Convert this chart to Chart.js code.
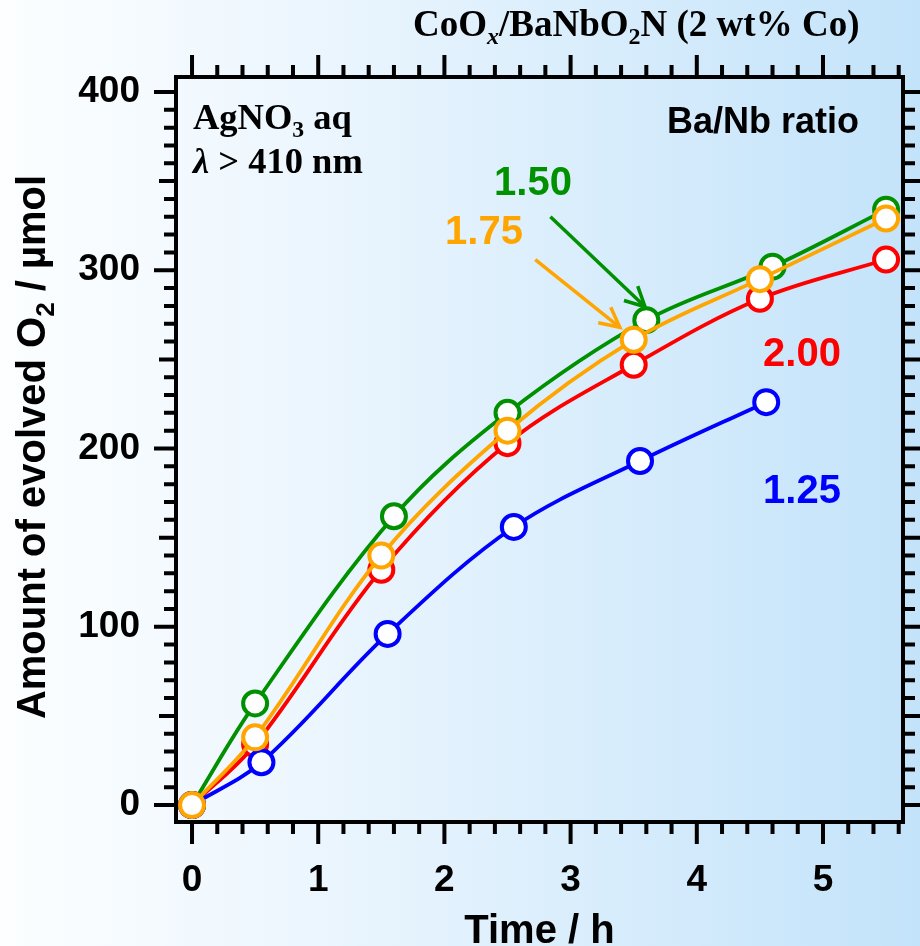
<!DOCTYPE html>
<html>
<head>
<meta charset="utf-8">
<script src="https://cdn.jsdelivr.net/npm/chart.js@4.4.1/dist/chart.umd.min.js"></script>
<style>
  html, body { margin: 0; padding: 0; background: #ffffff; }
  canvas { display: block; }
</style>
</head>
<body>
<canvas id="c" width="920" height="946"></canvas>
<script>
// ---------------- data ----------------
const ratioLabels = ['1.25', '1.50', '1.75', '2.00'];
const time_125 = [0, 0.55, 1.55, 2.55, 3.55, 4.55];
const o2_125   = [0, 24, 96, 156, 193, 226];
const time_150 = [0, 0.5, 1.6, 2.5, 3.6, 4.6, 5.5];
const o2_150   = [0, 57, 162, 220, 272, 302, 334];
const time_175 = [0, 0.5, 1.5, 2.5, 3.5, 4.5, 5.5];
const o2_175   = [0, 38, 140, 210, 261, 295, 329];
const time_200 = [0, 0.5, 1.5, 2.5, 3.5, 4.5, 5.5];
const o2_200   = [0, 34, 132, 203, 247, 284, 306];
const xTickValues = [0, 1, 2, 3, 4, 5];
const yTickValues = [0, 100, 200, 300, 400];
// arrows (data coordinates): [x0, y0, x1, y1]
const arrow_150 = [2.84, 330, 3.59, 279.5];
const arrow_175 = [2.72, 306, 3.39, 268];

const SANS = '"Liberation Sans", Arial, sans-serif';
const SERIF = '"Liberation Serif", "Times New Roman", serif';

function pts(xs, ys) { return xs.map((x, i) => ({ x: x, y: ys[i] })); }

// ---------------- rich text helper ----------------
function segFont(seg, size, family) {
  const s = seg.sub ? size * 0.65 : size;
  return (seg.italic ? 'italic ' : '') + 'bold ' + s + 'px ' + family;
}
function richWidth(ctx, segs, size, family) {
  let w = 0;
  segs.forEach(seg => { ctx.font = segFont(seg, size, family); w += ctx.measureText(seg.t).width; });
  return w;
}
function drawRich(ctx, segs, x, y, size, family, color) {
  ctx.save();
  ctx.fillStyle = color;
  ctx.textBaseline = 'alphabetic';
  ctx.textAlign = 'left';
  let cx = x;
  segs.forEach(seg => {
    ctx.font = segFont(seg, size, family);
    const dy = seg.sub ? size * 0.22 : 0;
    ctx.fillText(seg.t, cx, y + dy);
    cx += ctx.measureText(seg.t).width;
  });
  ctx.restore();
}

// ---------------- plugins ----------------
const bgPlugin = {
  id: 'bg',
  beforeDraw(chart) {
    const ctx = chart.ctx;
    const g = ctx.createLinearGradient(0, 0, chart.width, 0);
    g.addColorStop(0, '#fcfeff');
    g.addColorStop(0.3, '#eef7fe');
    g.addColorStop(1, '#c3e3fa');
    ctx.save();
    ctx.fillStyle = g;
    ctx.fillRect(0, 0, chart.width, chart.height);
    ctx.restore();
  }
};

function drawArrow(ctx, xs, ys, a, color) {
  const x0 = xs.getPixelForValue(a[0]), y0 = ys.getPixelForValue(a[1]);
  const x1 = xs.getPixelForValue(a[2]), y1 = ys.getPixelForValue(a[3]);
  const ang = Math.atan2(y1 - y0, x1 - x0);
  const L = 22, h = 27 * Math.PI / 180;
  ctx.save();
  ctx.strokeStyle = color;
  ctx.lineWidth = 3.5;
  ctx.lineCap = 'butt';
  ctx.beginPath();
  ctx.moveTo(x0, y0); ctx.lineTo(x1, y1);
  ctx.stroke();
  ctx.beginPath();
  ctx.moveTo(x1 - L * Math.cos(ang - h), y1 - L * Math.sin(ang - h));
  ctx.lineTo(x1, y1);
  ctx.lineTo(x1 - L * Math.cos(ang + h), y1 - L * Math.sin(ang + h));
  ctx.stroke();
  ctx.restore();
}

const framePlugin = {
  id: 'frame',
  afterDraw(chart) {
    const ctx = chart.ctx;
    const a = chart.chartArea;
    const xs = chart.scales.x, ys = chart.scales.y;
    ctx.save();
    ctx.strokeStyle = '#000';
    ctx.lineWidth = 4;
    ctx.strokeRect(a.left, a.top, a.right - a.left, a.bottom - a.top);
    // x ticks (bottom & top), every 0.2
    for (let i = 0; i <= 28; i++) {
      const v = i * 0.2;
      const px = xs.getPixelForValue(v);
      if (px > a.right - 3) continue;
      const major = (i % 5 === 0);
      const len = major ? 20 : 10;
      ctx.beginPath();
      ctx.moveTo(px, a.bottom); ctx.lineTo(px, a.bottom + 2 + len);
      ctx.moveTo(px, a.top); ctx.lineTo(px, a.top - 2 - len);
      ctx.stroke();
    }
    // y ticks (left & right), every 10
    for (let i = 0; i <= 40; i++) {
      const v = i * 10;
      const py = ys.getPixelForValue(v);
      const len = (i % 10 === 0) ? 20 : (i % 5 === 0 ? 15 : 10);
      ctx.beginPath();
      ctx.moveTo(a.left, py); ctx.lineTo(a.left - 2 - len, py);
      ctx.moveTo(a.right, py); ctx.lineTo(a.right + 2 + len, py);
      ctx.stroke();
    }
    ctx.restore();

    // arrows
    drawArrow(ctx, xs, ys, arrow_150, '#009000');
    drawArrow(ctx, xs, ys, arrow_175, '#FFA500');

    // series labels
    ctx.save();
    ctx.textAlign = 'center';
    ctx.textBaseline = 'middle';
    ctx.font = 'bold 40px ' + SANS;
    ctx.fillStyle = '#009000'; ctx.fillText(ratioLabels[1], 533, 184);
    ctx.fillStyle = '#FFA500'; ctx.fillText(ratioLabels[2], 484, 233);
    ctx.fillStyle = '#FF0000'; ctx.fillText(ratioLabels[3], 802, 355);
    ctx.fillStyle = '#0000FF'; ctx.fillText(ratioLabels[0], 802, 492);
    ctx.fillStyle = '#000';
    ctx.font = 'bold 36px ' + SANS;
    ctx.textAlign = 'left';
    ctx.textBaseline = 'alphabetic';
    ctx.fillText('Ba/Nb ratio', 667, 133);
    ctx.restore();

    // top-left annotation (Times)
    drawRich(ctx, [{t: 'AgNO'}, {t: '3', sub: true}, {t: ' aq'}], 193, 129, 36.5, SERIF, '#000');
    drawRich(ctx, [{t: '\u03bb', italic: true}, {t: ' > 410 nm'}], 193, 173, 36.5, SERIF, '#000');

    // header title
    const titleSegs = [{t: 'CoO'}, {t: 'x', sub: true, italic: true}, {t: '/BaNbO'}, {t: '2', sub: true}, {t: 'N (2 wt% Co)'}];
    drawRich(ctx, titleSegs, 413, 36, 37, SERIF, '#000');

    // axis titles
    ctx.save();
    ctx.fillStyle = '#000';
    ctx.font = 'bold 40px ' + SANS;
    ctx.textAlign = 'center';
    ctx.textBaseline = 'alphabetic';
    ctx.fillText('Time / h', (a.left + a.right) / 2, 943);
    ctx.restore();

    const ySegs = [{t: 'Amount of evolved O'}, {t: '2', sub: true}, {t: ' / \u00b5mol'}];
    const yw = richWidth(ctx, ySegs, 40, SANS);
    ctx.save();
    ctx.translate(45, 447);
    ctx.rotate(-Math.PI / 2);
    drawRich(ctx, ySegs, -yw / 2, 0, 40, SANS, '#000');
    ctx.restore();
  }
};

// ---------------- chart ----------------
const tickFont = { family: SANS, size: 37, weight: 'bold' };
const common = { borderWidth: 3.8, pointRadius: 12, pointBorderWidth: 4, pointBackgroundColor: '#ffffff', tension: 0.35, clip: false, fill: false };

new Chart(document.getElementById('c'), {
  type: 'line',
  data: {
    datasets: [
      Object.assign({ label: ratioLabels[2], data: pts(time_175, o2_175), borderColor: '#FFA500', pointBorderColor: '#FFA500', order: 1 }, common),
      Object.assign({ label: ratioLabels[0], data: pts(time_125, o2_125), borderColor: '#0000FF', pointBorderColor: '#0000FF', order: 2 }, common),
      Object.assign({ label: ratioLabels[3], data: pts(time_200, o2_200), borderColor: '#FF0000', pointBorderColor: '#FF0000', order: 3 }, common),
      Object.assign({ label: ratioLabels[1], data: pts(time_150, o2_150), borderColor: '#009000', pointBorderColor: '#009000', order: 4 }, common)
    ]
  },
  options: {
    responsive: false,
    animation: false,
    devicePixelRatio: 1,
    layout: { padding: { top: 77, right: 17, left: 0, bottom: 0 } },
    plugins: { legend: { display: false }, tooltip: { enabled: false } },
    scales: {
      x: {
        type: 'linear', min: -0.127, max: 5.634,
        afterFit(s) { s.height = 124; },
        border: { display: false },
        grid: { display: false, drawTicks: true, tickLength: 20 },
        ticks: {
          stepSize: 1, includeBounds: false, autoSkip: false, maxRotation: 0,
          padding: 17, color: '#000', font: tickFont,
          callback: v => xTickValues.includes(v) ? String(v) : ''
        }
      },
      y: {
        type: 'linear', min: -9.5, max: 408.4,
        afterFit(s) { s.width = 176; },
        border: { display: false },
        grid: { display: false, drawTicks: true, tickLength: 20 },
        ticks: {
          stepSize: 100, includeBounds: false, autoSkip: false,
          padding: 16, color: '#000', font: tickFont,
          callback: v => yTickValues.includes(v) ? String(v) : ''
        }
      }
    }
  },
  plugins: [bgPlugin, framePlugin]
});
</script>
</body>
</html>
